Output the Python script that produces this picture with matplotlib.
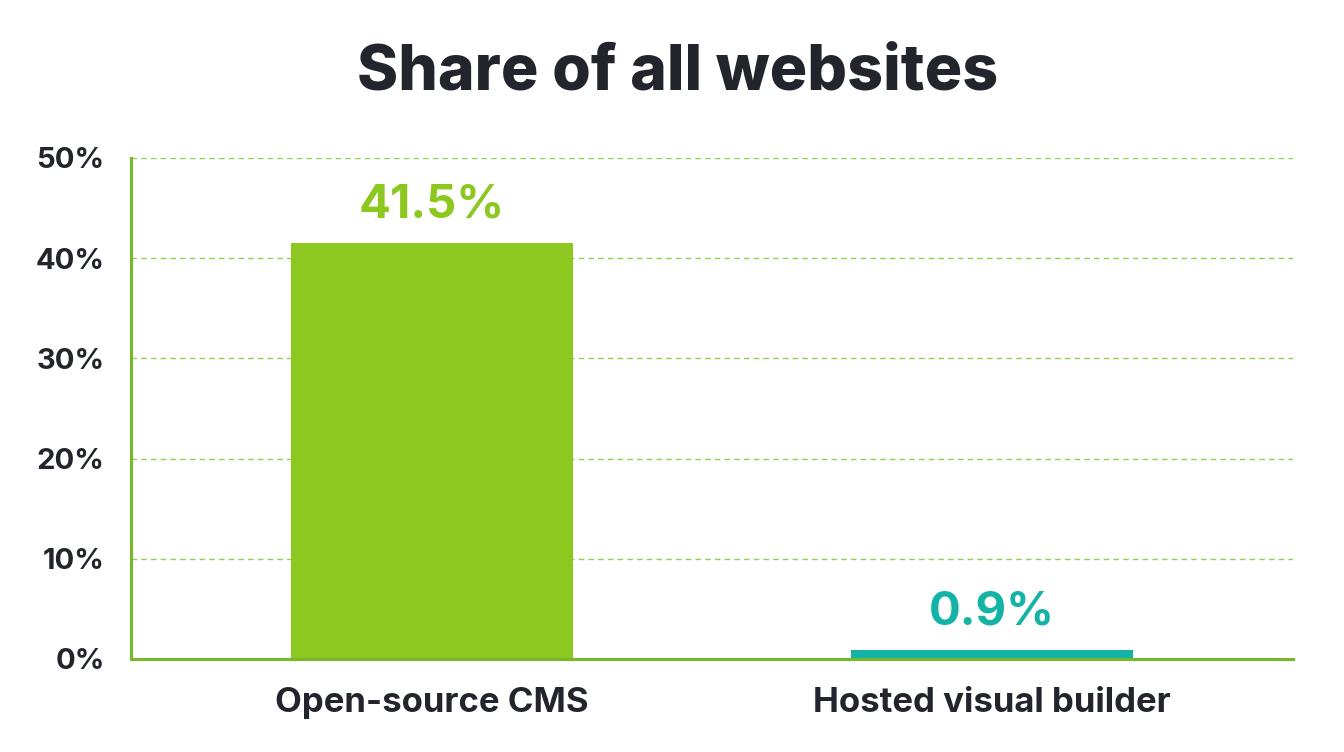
import matplotlib.pyplot as plt
from matplotlib.ticker import FuncFormatter

categories = ["Open-source CMS", "Hosted visual builder"]
shares = [41.5, 0.9]
value_labels = ["41.5%", "0.9%"]
yticks = [0, 10, 20, 30, 40, 50]

bar_colors = ['#8cc81f', '#13b3a6']
text_dark = '#22252c'
axis_green = '#76b82a'

plt.rcParams['font.family'] = ['Inter', 'DejaVu Sans']

fig = plt.figure(figsize=(13.44, 7.52), dpi=100)
fig.patch.set_facecolor('white')
ax = fig.add_axes([0.0975, 0.1237, 0.8645, 0.6663])

ax.bar(range(len(categories)), shares, width=0.505, color=bar_colors, zorder=3)

for i, (v, lab) in enumerate(zip(shares, value_labels)):
    ax.annotate(lab, xy=(i, v), xytext=(0, 11), textcoords='offset points',
                ha='center', va='bottom', fontsize=34, fontweight='bold',
                color=bar_colors[i], zorder=4)

ax.set_xlim(-0.5375, 1.5375)
ax.set_ylim(0, 50)
ax.set_yticks(yticks)
ax.yaxis.set_major_formatter(FuncFormatter(lambda v, p: f"{int(v)}%"))
ax.set_xticks(range(len(categories)))
ax.set_xticklabels(categories)

ax.grid(axis='y', color='#8fd14f', linestyle=(0, (4, 3)), linewidth=1.0, zorder=0)
ax.grid(axis='x', visible=False)

for s in ['top', 'right']:
    ax.spines[s].set_visible(False)
for s in ['left', 'bottom']:
    ax.spines[s].set_color(axis_green)
    ax.spines[s].set_linewidth(2.2)
    ax.spines[s].set_zorder(5)

ax.tick_params(axis='y', length=0, pad=19, labelsize=21, labelcolor=text_dark)
ax.tick_params(axis='x', length=0, pad=20, labelsize=25, labelcolor=text_dark)
for t in ax.get_yticklabels() + ax.get_xticklabels():
    t.set_fontweight('bold')

fig.suptitle("Share of all websites", x=0.5045, y=0.942, fontsize=45,
             fontweight=800, color=text_dark)

fig.savefig("out.png", dpi=100, facecolor='white')
